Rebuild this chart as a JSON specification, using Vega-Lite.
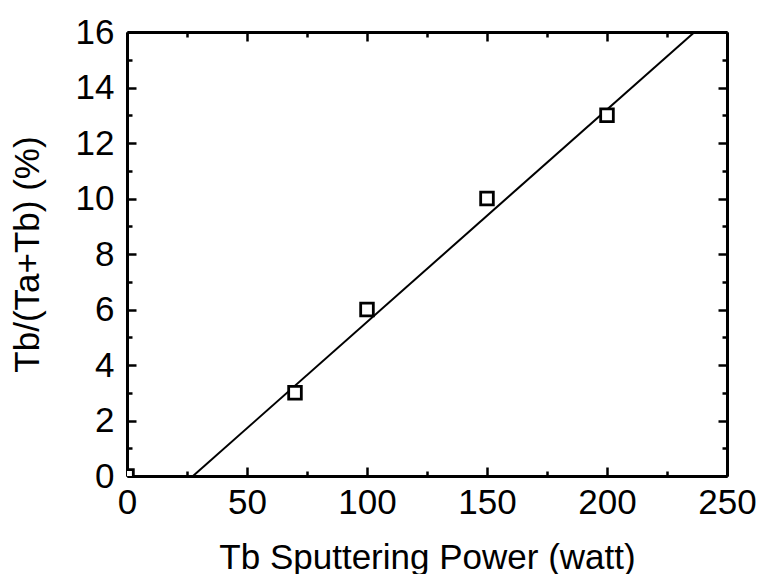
{
  "$schema": "https://vega.github.io/schema/vega-lite/v6.json",
  "width": 600,
  "height": 444,
  "autosize": "none",
  "padding": {"left": 127, "top": 32, "right": 31, "bottom": 98},
  "background": "white",
  "config": {
    "view": {"stroke": null},
    "font": "Liberation Sans",
    "axis": {
      "domainColor": "black",
      "domainWidth": 3,
      "tickColor": "black",
      "tickWidth": 2.5,
      "labelColor": "black",
      "titleColor": "black",
      "labelFont": "Liberation Sans",
      "titleFont": "Liberation Sans",
      "titleFontWeight": "normal",
      "labelFontSize": 35,
      "titleFontSize": 35,
      "grid": false
    }
  },
  "datasets": {
    "pts": [
      {"power": 0, "pct": 0},
      {"power": 70, "pct": 3},
      {"power": 100, "pct": 6},
      {"power": 150, "pct": 10},
      {"power": 200, "pct": 13}
    ],
    "fit": [
      {"power": 27.5, "pct": 0},
      {"power": 236.5, "pct": 16}
    ]
  },
  "resolve": {"axis": {"x": "independent", "y": "independent"}},
  "layer": [
    {
      "data": {"name": "fit"},
      "mark": {"type": "line", "color": "black", "strokeWidth": 2, "clip": true},
      "encoding": {
        "x": {
          "field": "power", "type": "quantitative",
          "scale": {"domain": [0, 250], "nice": false, "zero": false},
          "axis": {"orient": "top", "title": null, "labels": false, "values": [0, 50, 100, 150, 200, 250], "tickSize": -9}
        },
        "y": {
          "field": "pct", "type": "quantitative",
          "scale": {"domain": [0, 16], "nice": false, "zero": false},
          "axis": {"orient": "right", "title": null, "labels": false, "values": [0, 2, 4, 6, 8, 10, 12, 14, 16], "tickSize": -9}
        }
      }
    },
    {
      "data": {"name": "fit"},
      "mark": {"type": "line", "color": "black", "strokeWidth": 2, "opacity": 0, "clip": true},
      "encoding": {
        "x": {
          "field": "power", "type": "quantitative",
          "scale": {"domain": [0, 250], "nice": false, "zero": false},
          "axis": {"orient": "top", "title": null, "labels": false, "domain": false, "values": [25, 75, 125, 175, 225], "tickSize": -5}
        },
        "y": {
          "field": "pct", "type": "quantitative",
          "scale": {"domain": [0, 16], "nice": false, "zero": false},
          "axis": {"orient": "right", "title": null, "labels": false, "domain": false, "values": [1, 3, 5, 7, 9, 11, 13, 15], "tickSize": -5}
        }
      }
    },
    {
      "data": {"name": "pts"},
      "mark": {"type": "point", "shape": "square", "size": 160, "opacity": 0, "clip": true},
      "encoding": {
        "x": {
          "field": "power", "type": "quantitative",
          "scale": {"domain": [0, 250], "nice": false, "zero": false},
          "axis": {"orient": "bottom", "title": null, "labels": false, "domain": false, "values": [25, 75, 125, 175, 225], "tickSize": -5}
        },
        "y": {
          "field": "pct", "type": "quantitative",
          "scale": {"domain": [0, 16], "nice": false, "zero": false},
          "axis": {"orient": "left", "title": null, "labels": false, "domain": false, "values": [1, 3, 5, 7, 9, 11, 13, 15], "tickSize": -5}
        }
      }
    },
    {
      "data": {"name": "pts"},
      "mark": {"type": "point", "shape": "square", "size": 160, "filled": true, "fill": "white", "stroke": "black", "strokeWidth": 2.8, "opacity": 1, "clip": true},
      "encoding": {
        "x": {
          "field": "power", "type": "quantitative",
          "scale": {"domain": [0, 250], "nice": false, "zero": false},
          "axis": {
            "orient": "bottom", "title": "Tb Sputtering Power (watt)",
            "values": [0, 50, 100, 150, 200, 250],
            "labelPadding": 18,
            "labelFlush": false,
            "labelOverlap": false,
            "titlePadding": 20,
            "tickSize": -9
          }
        },
        "y": {
          "field": "pct", "type": "quantitative",
          "scale": {"domain": [0, 16], "nice": false, "zero": false},
          "axis": {
            "orient": "left", "title": "Tb/(Ta+Tb) (%)",
            "values": [0, 2, 4, 6, 8, 10, 12, 14, 16],
            "labelPadding": 22,
            "labelFlush": false,
            "labelOverlap": false,
            "titlePadding": 30,
            "tickSize": -9
          }
        }
      }
    }
  ]
}
